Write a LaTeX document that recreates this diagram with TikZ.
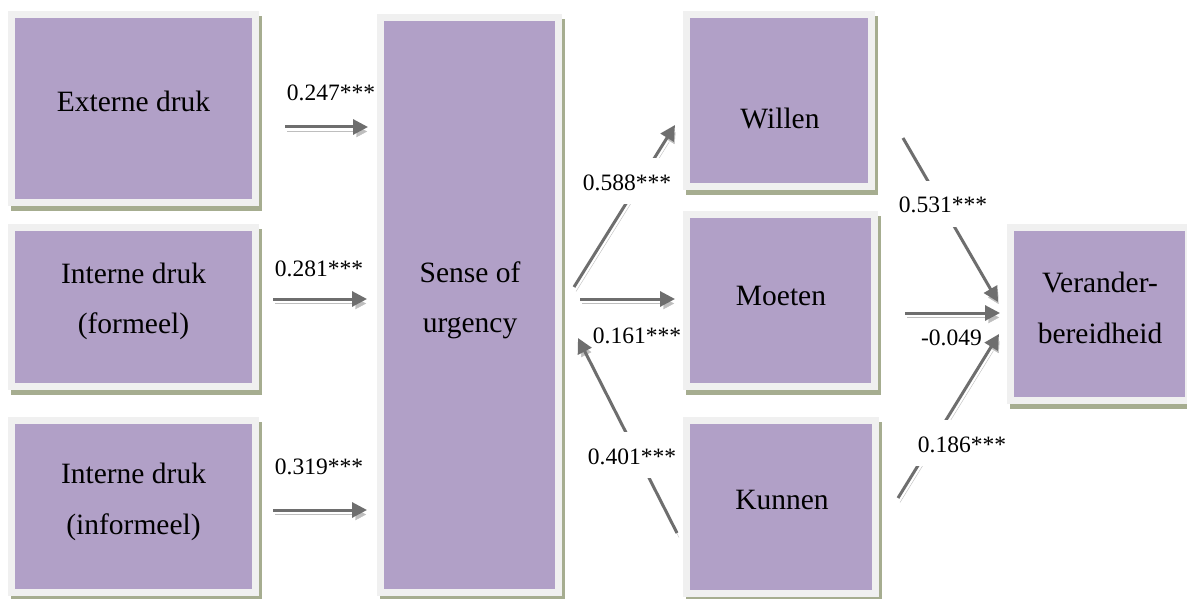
\documentclass[tikz,border=0pt]{standalone}
\usepackage{fontspec}
\setmainfont{Liberation Serif}
\usetikzlibrary{arrows.meta}
\definecolor{boxfill}{RGB}{177,160,199}
\definecolor{boxframe}{RGB}{240,240,240}
\definecolor{boxshadow}{RGB}{166,173,144}
\definecolor{arrowdark}{RGB}{110,110,110}
\definecolor{arrowlight}{RGB}{190,190,190}
% two centred lines; the baseline of the box is that of the first line
\newcommand{\twolines}[2]{\vtop{\halign{\hfil##\hfil\cr #1\cr #2\cr}}}
\begin{document}
\begin{tikzpicture}[x=1pt,y=-1pt,
  box/.style 2 args={rectangle, inner sep=0pt, outer sep=0pt, line width=7pt,
    draw=boxframe, fill=boxfill, minimum width=#1pt, minimum height=#2pt,
    preaction={draw=boxshadow, fill=boxshadow, transform canvas={shift={(3pt,-5pt)}}}},
  boxtext/.style={font=\fontsize{29.5}{51}\selectfont, anchor=base, inner sep=0pt},
  arr/.style={draw=arrowdark, line width=3pt, -{Triangle[length=15pt,width=15pt]},
    preaction={draw=arrowlight, transform canvas={shift={(2pt,-4.5pt)}}}},
  lbl/.style={font=\fontsize{23.5}{28}\selectfont, anchor=base, inner sep=0pt},
  gaplbl/.style={lbl, fill=white, inner xsep=4pt, text height=32pt, text depth=14pt}]

\useasboundingbox (0,0) rectangle (1187,599);
\fill[white] (0,0) rectangle (1187,599);

% boxes
\node[box={244}{188}] (ext)      at (133.5,108.5) {};
\node[box={244}{159}] (intf)     at (133.5,307)   {};
\node[box={244}{172}] (inti)     at (133.5,506.5) {};
\node[box={178}{575}] (sense)    at (469.5,305)   {};
\node[box={185}{172}] (willen)   at (779,100.5)   {};
\node[box={188}{172}] (moeten)   at (780.5,300.5) {};
\node[box={189}{173}] (kunnen)   at (781,507)     {};
\node[box={178}{173}] (verander) at (1099.5,314)  {};

% paths
\draw[arr] ([shift={(29.5,18.5)}]ext.east)  -- ([shift={(-12.5,-178)}]sense.west);
\draw[arr] ([shift={(17.5,-8)}]intf.east)   -- ([shift={(-13.5,-6)}]sense.west);
\draw[arr] ([shift={(17.5,3.5)}]inti.east)  -- ([shift={(-13.5,205)}]sense.west);
\draw[arr] ([shift={(15.5,-18)}]sense.east) -- ([shift={(-11.5,24.5)}]willen.west);
\draw[arr] ([shift={(21.5,-6)}]sense.east)  -- ([shift={(-11.5,-1.5)}]moeten.west);
\draw[arr] ([shift={(-9.5,26)}]kunnen.west) -- ([shift={(19.5,33)}]sense.east);
\draw[arr] ([shift={(31.5,37.5)}]willen.east) -- ([shift={(-12.5,-12)}]verander.west);
\draw[arr] ([shift={(30.5,12.5)}]moeten.east) -- ([shift={(-10.5,-1)}]verander.west);
\draw[arr] ([shift={(22.5,-9)}]kunnen.east)   -- ([shift={(-11.5,20)}]verander.west);

% coefficients
\node[lbl]    (c-ext)  at (331,101)   {0.247***};
\node[lbl]    (c-intf) at (319,276)   {0.281***};
\node[lbl]    (c-inti) at (319,474)   {0.319***};
\node[gaplbl] (c-wil)  at (627,190)   {0.588***};
\node[lbl]    (c-moe)  at (637,343)   {0.161***};
\node[gaplbl] (c-kun)  at (632,464)   {0.401***};
\node[gaplbl] (c-wv)   at (943,213)   {0.531***};
\node[lbl]    (c-mv)   at (951.5,345) {-0.049};
\node[gaplbl] (c-kv)   at (962,452)   {0.186***};

% box texts
\node[boxtext] (t-ext)  at (133.5,112) {Externe druk};
\node[boxtext] (t-intf) at (133.5,283) {\twolines{Interne druk}{(formeel)}};
\node[boxtext] (t-inti) at (133.5,483) {\twolines{Interne druk}{(informeel)}};
\node[boxtext] (t-sen)  at (470,282)   {\twolines{Sense of}{urgency}};
\node[boxtext] (t-wil)  at (780,129)   {Willen};
\node[boxtext] (t-moe)  at (781,305)   {Moeten};
\node[boxtext] (t-kun)  at (782,509)   {Kunnen};
\node[boxtext] (t-ver)  at (1100,292)  {\twolines{Verander-}{bereidheid}};
\end{tikzpicture}
\end{document}
